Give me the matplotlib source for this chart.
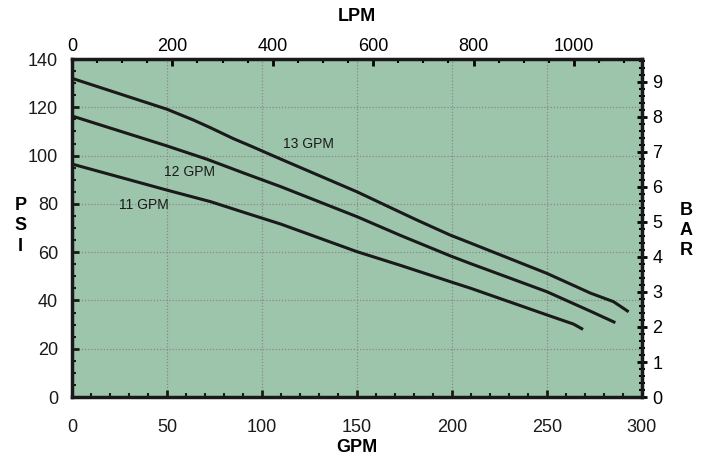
import matplotlib.pyplot as plt
from matplotlib.ticker import MultipleLocator, FixedLocator

plt.rcParams['font.family'] = ['Liberation Sans', 'DejaVu Sans']

# pump curves (GPM vs PSI)
gpm_13 = [0, 50, 64, 73, 85, 94, 110, 150, 164, 181, 199, 210, 250, 273, 285, 289, 293]
psi_13 = [132, 119.2, 114.7, 111.5, 107.0, 104.0, 98.5, 85.0, 79.8, 73.5, 67.1, 63.7, 51.2, 43.0, 39.5, 37.4, 35.3]

gpm_12 = [0, 50, 71, 92, 110, 150, 173, 199, 210, 250, 273, 286]
psi_12 = [116.4, 104.0, 98.5, 92.3, 87.1, 74.7, 66.9, 58.5, 55.2, 43.6, 35.5, 30.8]

gpm_11 = [0, 50, 73, 92, 110, 150, 173, 199, 210, 250, 264, 269]
psi_11 = [96.5, 85.7, 80.9, 76.1, 71.6, 60.2, 54.5, 47.8, 45.0, 34.0, 30.2, 28.0]

curve_labels = ['13 GPM', '12 GPM', '11 GPM']
label_pos = [(124.4, 104.8), (61.8, 93.3), (37.9, 79.5)]

lpm_ticks = [0, 200, 400, 600, 800, 1000]
bar_ticks = [0, 1, 2, 3, 4, 5, 6, 7, 8, 9]

LPM_PER_GPM = 3.785
PSI_PER_BAR = 14.5

fig = plt.figure(figsize=(7.07, 4.61), dpi=100)
ax = fig.add_axes([0.1018, 0.1388, 0.8062, 0.7332])
ax.set_facecolor('#9dc5ac')

for x, y in [(gpm_13, psi_13), (gpm_12, psi_12), (gpm_11, psi_11)]:
    ax.plot(x, y, color='#1a1a1a', lw=2.2, solid_capstyle='butt', solid_joinstyle='round')

for txt, (x, y) in zip(curve_labels, label_pos):
    ax.text(x, y, txt, fontsize=10, ha='center', va='center', color='#1a1a1a')

ax.set_xlim(0, 300)
ax.set_ylim(0, 140)
ax.xaxis.set_major_locator(MultipleLocator(50))
ax.xaxis.set_minor_locator(MultipleLocator(10))
ax.yaxis.set_major_locator(MultipleLocator(20))
ax.yaxis.set_minor_locator(MultipleLocator(5))
ax.grid(True, which='major', color='#888888', ls=(0, (1, 1.5)), lw=0.9)
ax.tick_params(axis='both', which='both', direction='in', colors='#1a1a1a', labelsize=13)
ax.tick_params(axis='x', which='major', length=5, width=2, pad=16)
ax.tick_params(axis='x', which='minor', length=3, width=1.5)
ax.tick_params(axis='y', which='major', length=5, width=2, pad=10)
ax.tick_params(axis='y', which='minor', length=3, width=1.5)
for s in ax.spines.values():
    s.set_linewidth(2.5)
    s.set_color('#1a1a1a')

top = ax.secondary_xaxis('top', functions=(lambda g: g * LPM_PER_GPM, lambda l: l / LPM_PER_GPM))
top.xaxis.set_major_locator(FixedLocator(lpm_ticks))
top.xaxis.set_minor_locator(FixedLocator(range(50, 1101, 50)))
top.tick_params(which='both', direction='in', labelsize=13, pad=3)
top.tick_params(which='major', length=5, width=2)
top.tick_params(which='minor', length=3, width=1.5)

right = ax.secondary_yaxis('right', functions=(lambda p: p / PSI_PER_BAR, lambda b: b * PSI_PER_BAR))
right.yaxis.set_major_locator(FixedLocator(bar_ticks))
right.yaxis.set_minor_locator(FixedLocator([i * 0.2 for i in range(0, 49)]))
right.tick_params(which='both', direction='inout', labelsize=13, pad=4)
right.tick_params(which='major', length=7, width=2)
right.tick_params(which='minor', length=4, width=1.5)

fig.text(0.505, 0.030, 'GPM', fontsize=13, fontweight='bold', ha='center', va='center')
fig.text(0.505, 0.965, 'LPM', fontsize=13, fontweight='bold', ha='center', va='center')
fig.text(0.029, 0.51, 'P\nS\nI', fontsize=13, fontweight='bold', ha='center', va='center',
         linespacing=1.25)
fig.text(0.971, 0.50, 'B\nA\nR', fontsize=13, fontweight='bold', ha='center', va='center',
         linespacing=1.25)

fig.savefig('out.png', dpi=100)
